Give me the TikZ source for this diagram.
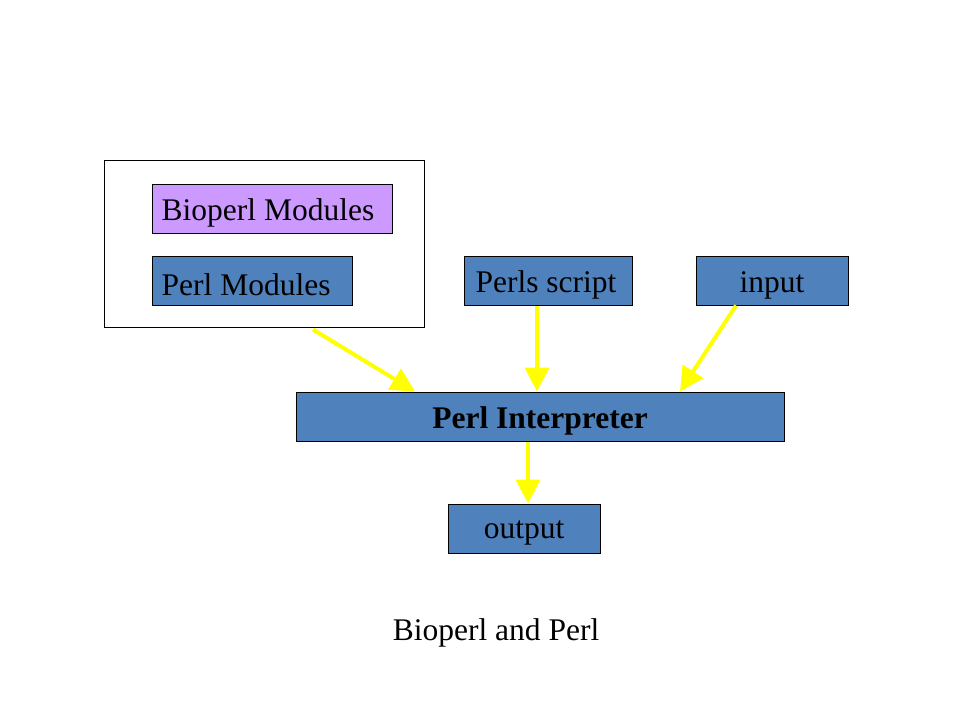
\documentclass[tikz,border=0pt]{standalone}
\usepackage{fontspec}
\setmainfont{Liberation Serif}
\usetikzlibrary{arrows.meta}
\definecolor{boxblue}{HTML}{4F81BD}
\definecolor{boxpurple}{HTML}{CC99FF}
\definecolor{arrowyellow}{HTML}{FFFF00}
\begin{document}
\begin{tikzpicture}[x=1pt,y=-1pt,
  box/.style={draw=black, line width=1pt, fill=boxblue, inner sep=0pt, minimum height=49pt},
  txt/.style={inner sep=0pt, yshift=-4.5pt, font=\fontsize{31.5}{36}\selectfont},
  arr/.style={draw=arrowyellow, line width=4pt, -{Triangle[length=24pt,width=24pt]}}]
\useasboundingbox (0,0) rectangle (960,720);
\fill[white] (0,0) rectangle (960,720);
\node[draw=black, line width=1pt, minimum width=320pt, minimum height=167pt, inner sep=0pt] (frame) at (264,243.5) {};
\node[box, fill=boxpurple, minimum width=240pt] (bio) at (272,208.5) {};
\node[txt, anchor=west, xshift=10pt] (biot) at (bio.west) {Bioperl Modules};
\node[box, minimum width=200pt] (perlmod) at (252,280.5) {};
\node[txt, anchor=west, xshift=10pt] (perlmodt) at (perlmod.west) {Perl Modules};
\node[box, minimum width=168pt] (script) at (548,280.5) {};
\node[txt, xshift=-2pt] (scriptt) at (script.center) {Perls script};
\node[box, minimum width=152pt] (input) at (772,280.5) {};
\node[txt] (inputt) at (input.center) {input};
\node[box, minimum width=488pt] (interp) at (540,416.5) {};
\node[txt, font=\fontsize{31.5}{36}\selectfont\bfseries] (interpt) at (interp.center) {Perl Interpreter};
\node[box, minimum width=152pt] (output) at (524,528.5) {};
\node[txt] (outputt) at (output.center) {output};
\node[txt] (caption) at (496,628) {Bioperl and Perl};
\draw[arr] ([xshift=49pt,yshift=-2pt]frame.south) -- ([xshift=-125pt]interp.north);
\draw[arr] ([xshift=-11pt]script.south) -- ([xshift=-3pt]interp.north);
\draw[arr] ([xshift=-36pt]input.south) -- ([xshift=140pt]interp.north);
\draw[arr] ([xshift=-12pt]interp.south) -- ([xshift=4pt]output.north);
\end{tikzpicture}
\end{document}
